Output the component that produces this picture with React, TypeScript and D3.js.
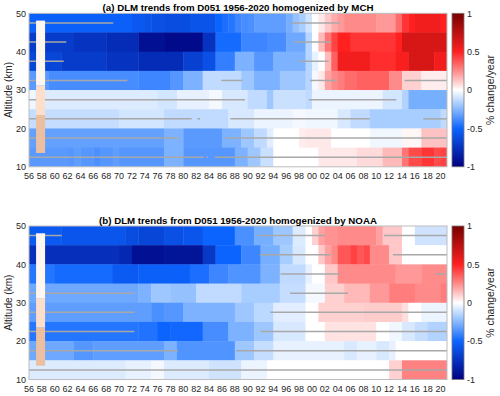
import * as d3 from "d3";

// x edges of the cells (years), one cell per year 1956..2020
const yearSpan = [1956, 2021];
const xTickYears = [1956, 1958, 1960, 1962, 1964, 1966, 1968, 1970, 1972, 1974, 1976, 1978, 1980, 1982, 1984, 1986, 1988, 1990, 1992, 1994, 1996, 1998, 2000, 2002, 2004, 2006, 2008, 2010, 2012, 2014, 2016, 2018, 2020];
const altTicks = [10, 20, 30, 40, 50];
const cbarTicks = [-1, -0.5, 0, 0.5, 1];
const cbarTickLabels = ["-1", "-0.5", "0", "0.5", "1"];

// bottom of each 5 km layer, top layer first
const layerBottoms = [45, 40, 35, 30, 25, 20, 15, 10];

// runs of [first year, trend] per layer (value holds until next run)
const mchRuns: [number, number][][] = [
  [[1956,-0.52],[1972,-0.56],[1974,-0.58],[1975,-0.6],[1977,-0.62],[1981,-0.58],[1985,-0.5],[1986,-0.47],[1987,-0.45],[1988,-0.4],[1989,-0.38],[1990,-0.37],[1991,-0.33],[1996,-0.28],[1997,-0.22],[1998,-0.18],[1999,-0.1],[2000,0],[2001,0.05],[2002,0.12],[2003,0.18],[2004,0.22],[2005,0.25],[2010,0.22],[2013,0.32],[2014,0.45],[2015,0.5],[2016,0.55],[2020,0.5]],
  [[1956,-0.7],[1963,-0.74],[1968,-0.78],[1973,-0.92],[1977,-0.95],[1983,-0.75],[1985,-0.48],[1989,-0.4],[1993,-0.38],[1996,-0.3],[1999,-0.15],[2000,0],[2001,0.15],[2002,0.3],[2003,0.42],[2004,0.5],[2006,0.45],[2013,0.5],[2014,0.65]],
  [[1956,-0.65],[1961,-0.7],[1968,-0.74],[1973,-0.78],[1980,-0.68],[1983,-0.6],[1985,-0.42],[1988,-0.27],[1991,-0.35],[1994,-0.27],[1999,-0.15],[2000,-0.05],[2001,0],[2002,0.15],[2003,0.35],[2004,0.55],[2009,0.47],[2013,0.52],[2015,0.65],[2019,0.55]],
  [[1956,-0.34],[1959,-0.38],[1973,-0.4],[1978,-0.35],[1980,-0.27],[1983,-0.13],[1989,-0.2],[1991,-0.27],[1995,-0.2],[1999,-0.15],[2000,-0.02],[2001,0.05],[2002,0.2],[2003,0.25],[2004,0.28],[2005,0.32],[2007,0.35],[2012,0.25],[2014,0.1],[2017,0.04]],
  [[1956,-0.03],[1957,-0.07],[1976,-0.09],[1979,-0.05],[1984,-0.02],[1986,-0.08],[1990,-0.13],[1993,-0.2],[1994,-0.11],[1999,-0.13],[2000,-0.04],[2011,-0.09],[2014,-0.16],[2015,-0.28]],
  [[1956,-0.12],[1970,-0.09],[1977,-0.13],[1987,-0.08],[1991,-0.04],[1997,-0.02],[1999,-0.03],[2004,-0.08],[2006,-0.13],[2009,-0.18],[2020,-0.13]],
  [[1956,-0.32],[1977,-0.27],[1980,-0.34],[1986,-0.27],[1989,-0.2],[1991,-0.13],[1993,-0.06],[1994,0],[1998,0.04],[1999,0.05],[2003,0],[2009,-0.03],[2014,0.02],[2017,0.13]],
  [[1956,-0.34],[1962,-0.35],[1963,-0.33],[1964,-0.35],[1966,-0.37],[1967,-0.35],[1969,-0.33],[1970,-0.35],[1977,-0.27],[1980,-0.35],[1988,-0.27],[1990,-0.2],[1992,-0.11],[1994,0],[2001,0.05],[2007,0.08],[2011,0.15],[2014,0.3],[2015,0.4],[2017,0.45],[2019,0.4],[2020,0.42]],
];

const noaaRuns: [number, number][][] = [
  [[1956,-0.55],[1961,-0.57],[1971,-0.62],[1973,-0.65],[1977,-0.6],[1980,-0.57],[1983,-0.5],[1988,-0.37],[1991,-0.28],[1994,-0.2],[1997,-0.07],[1999,0],[2000,0.1],[2001,0.2],[2002,0.23],[2004,0.25],[2010,0.2],[2011,0.12],[2014,0],[2016,-0.1]],
  [[1956,-0.76],[1970,-0.8],[1972,-0.92],[1977,-0.9],[1983,-0.72],[1985,-0.5],[1989,-0.4],[1992,-0.28],[1995,-0.18],[1997,-0.08],[1999,0],[2001,0.12],[2002,0.2],[2003,0.25],[2004,0.37],[2006,0.42],[2007,0.37],[2008,0.4],[2009,0.25],[2012,0.12],[2014,0]],
  [[1956,-0.45],[1960,-0.48],[1969,-0.55],[1973,-0.52],[1981,-0.47],[1984,-0.4],[1987,-0.36],[1992,-0.27],[1995,-0.13],[1999,-0.05],[2000,0],[2002,0.12],[2004,0.25],[2013,0.22],[2017,0.25]],
  [[1956,-0.3],[1973,-0.27],[1975,-0.2],[1978,-0.22],[1982,-0.13],[1989,-0.18],[1995,-0.12],[1999,-0.02],[2002,0.1],[2005,0.15],[2009,0.22],[2012,0.28],[2016,0.25],[2020,0.28]],
  [[1956,-0.33],[1975,-0.37],[1977,-0.35],[1980,-0.27],[1988,-0.2],[1991,-0.14],[1994,-0.06],[1999,0],[2001,0.1],[2008,0.11],[2014,0.07],[2015,0],[2017,-0.04]],
  [[1956,-0.45],[1973,-0.46],[1976,-0.5],[1978,-0.49],[1983,-0.38],[1987,-0.27],[1991,-0.2],[1994,-0.08],[1999,0],[2002,0.06],[2010,0],[2012,-0.03],[2014,-0.08],[2016,-0.12],[2018,-0.16]],
  [[1956,-0.3],[1963,-0.35],[1966,-0.33],[1977,-0.27],[1979,-0.36],[1988,-0.2],[1991,-0.12],[1994,-0.05],[2005,-0.08],[2007,-0.05],[2010,-0.08],[2012,-0.05],[2013,0]],
  [[1956,-0.07],[1971,-0.05],[1975,-0.02],[1977,-0.07],[1984,-0.1],[1989,-0.04],[1993,0],[2012,0.1],[2014,0.27]],
];

// grey segments: [altitude, from year, to year]
const mchSegments: [number, number, number][] = [
  [47.5,1956,1969.1],[47.5,1996.8,2004.3],
  [42.5,1956,1961.8],[42.5,1997.2,2003],
  [37.5,1956,1961.4],[37.5,1998,2002.6],
  [32.5,1956,1971.3],[32.5,1985.9,1989.2],[32.5,1999.7,2003.9],[32.5,2014.4,2021],
  [27.5,1956,1989.6],[27.5,1999.5,2013.1],
  [22.5,1956,1981.3],[22.5,1982.2,1982.6],[22.5,1987.3,2009],[22.5,2017.3,2021],
  [17.5,1956,1979.4],[17.5,1986.5,2021],
  [12.5,1956,1983.2],[12.5,1983.5,1983.8],[12.5,1984.9,2021],
];

const noaaSegments: [number, number, number][] = [
  [47.5,1956,1961.1],[47.5,1991.5,2002],[47.5,2011.2,2021],
  [42.5,1991.9,2002.9],[42.5,2012.6,2021],
  [37.5,1995.1,2004.3],[37.5,2019.2,2021],
  [32.5,1956,1972.4],[32.5,1996.6,2005.6],
  [27.5,1956,1972.4],[27.5,1993.5,2021],
  [22.5,1956,1972.4],[22.5,1992,2021],
  [17.5,1956,1979.2],[17.5,1988.2,2021],
  [12.5,1956,2021],
];

// altitude bar near 1957-58: band edges
const barYears = [1957.1, 1958.5];
const barEdges = [13.6, 23.5, 31.2, 48.1];
const barColors = ["#ebbf9f", "#fcdecb", "#fff6ef"];

const color = d3
  .scaleLinear<string>()
  .domain([-1, -0.5, -0.25, 0, 0.25, 0.5, 1])
  .range(["#00007e", "#0c64ff", "#86b9ff", "#ffffff", "#ff8a8a", "#ff2020", "#780000"])
  .interpolate(d3.interpolateRgb)
  .clamp(true);

const FONT = "'Liberation Sans', Arial, Helvetica, sans-serif";
const left = 29;
const right = 447;

function Panel({ title, runs, segments, top, bottom }: {
  title: string;
  runs: [number, number][][];
  segments: [number, number, number][];
  top: number;
  bottom: number;
}) {
  const x = d3.scaleLinear().domain(yearSpan).range([left, right]);
  const y = d3.scaleLinear().domain([10, 50]).range([bottom, top]);

  return (
    <g>
      {runs.map((row, i) =>
        row.map((r, j) => {
          const end = j < row.length - 1 ? row[j + 1][0] : yearSpan[1];
          const base = layerBottoms[i];
          return (
            <rect
              key={i + "-" + j}
              x={x(r[0])}
              width={x(end) - x(r[0]) + (end < yearSpan[1] ? 0.4 : 0)}
              y={y(base + 5)}
              height={y(base) - y(base + 5) + (base > 10 ? 0.4 : 0)}
              fill={color(r[1])}
            />
          );
        })
      )}
      {segments.map((s, i) => (
        <line key={i} x1={x(s[1])} x2={x(s[2])} y1={y(s[0])} y2={y(s[0])} stroke="#a8a8a8" strokeWidth={1.5} />
      ))}
      {barColors.map((c, i) => (
        <rect key={i} x={x(barYears[0])} width={x(barYears[1]) - x(barYears[0])}
          y={y(barEdges[i + 1])} height={y(barEdges[i]) - y(barEdges[i + 1])} fill={c} />
      ))}
      <rect x={left} y={top} width={right - left} height={bottom - top} fill="none" stroke="#bdbdbd" strokeWidth={1} />
      {xTickYears.map((t) => (
        <text key={t} x={x(t)} y={bottom + 12} textAnchor="middle" fontSize={9} fill="#262626" fontFamily={FONT}>
          {String(t % 100).padStart(2, "0")}
        </text>
      ))}
      {altTicks.map((t) => (
        <text key={t} x={left - 3} y={y(t) + 3.2} textAnchor="end" fontSize={9} fill="#262626" fontFamily={FONT}>
          {t}
        </text>
      ))}
      <text transform={`translate(12,${(top + bottom) / 2}) rotate(-90)`} textAnchor="middle" fontSize={10} fill="#262626" fontFamily={FONT}>
        Altitude (km)
      </text>
      <text x={(left + right) / 2} y={top - 2} textAnchor="middle" fontSize={9.7} fontWeight="bold" fill="#000" fontFamily={FONT}>
        {title}
      </text>
      <ColorBar top={top} bottom={bottom} />
    </g>
  );
}

function ColorBar({ top, bottom }: { top: number; bottom: number }) {
  const cy = d3.scaleLinear().domain([-1, 1]).range([bottom, top]);
  const id = "cb" + Math.round(top);
  const stops = d3.range(0, 1.0001, 0.05);
  return (
    <g>
      <defs>
        <linearGradient id={id} x1="0" y1="1" x2="0" y2="0">
          {stops.map((s) => (
            <stop key={s} offset={s} stopColor={color(-1 + 2 * s)} />
          ))}
        </linearGradient>
      </defs>
      <rect x={452} y={top} width={12} height={bottom - top} fill={`url(#${id})`} stroke="#7a7a7a" strokeWidth={0.8} />
      {cbarTicks.map((t, i) => (
        <text key={t} x={467} y={cy(t) + 3.2} fontSize={9} fill="#262626" fontFamily={FONT}>
          {cbarTickLabels[i]}
        </text>
      ))}
      <text transform={`translate(494,${(top + bottom) / 2}) rotate(-90)`} textAnchor="middle" fontSize={10.5} fill="#262626" fontFamily={FONT}>
        % change/year
      </text>
    </g>
  );
}

export default function App() {
  return (
    <svg width={500} height={396} style={{ position: "absolute", left: 0, top: 0, background: "#fff" }}>
      <rect width={500} height={396} fill="#fff" />
      <Panel title="(a) DLM trends from D051 1956-2020 homogenized by MCH" runs={mchRuns} segments={mchSegments} top={13.3} bottom={166.8} />
      <Panel title="(b) DLM trends from D051 1956-2020 homogenized by NOAA" runs={noaaRuns} segments={noaaSegments} top={226} bottom={379.5} />
    </svg>
  );
}
